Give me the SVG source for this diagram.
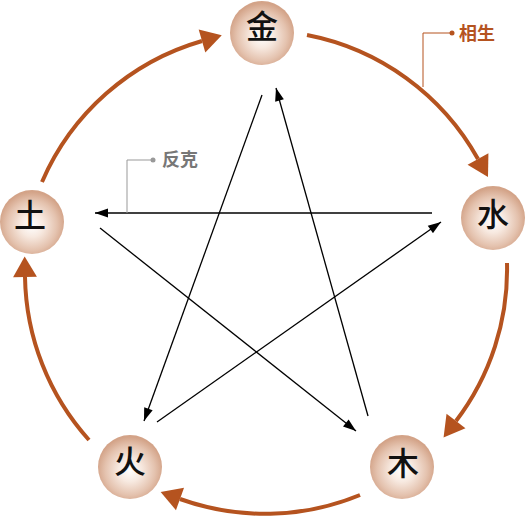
<svg xmlns="http://www.w3.org/2000/svg" width="526" height="517" viewBox="0 0 526 517">
<style>
.node circle{fill:url(#ball)}
.node text{font-family:"Noto Sans CJK SC","Noto Sans CJK JP",sans-serif;font-size:32px;font-weight:500;fill:#111;text-anchor:middle}
.sheng{fill:none;stroke:#b5531f;stroke-width:4;marker-end:url(#ah-o)}
.ke{fill:none;stroke:#000;stroke-width:1.3;marker-end:url(#ah-k)}
.lbl{font-family:"Noto Sans CJK SC","Noto Sans CJK JP",sans-serif;font-size:18px;font-weight:bold}
</style>
<defs>
<radialGradient id="ball" cx="50%" cy="55%" r="52%">
<stop offset="0" stop-color="#ffffff"/>
<stop offset="0.35" stop-color="#f7e9e0"/>
<stop offset="0.75" stop-color="#e4c2ae"/>
<stop offset="1" stop-color="#d3a388"/>
</radialGradient>
<marker id="ah-o" markerUnits="userSpaceOnUse" markerWidth="24" markerHeight="26" viewBox="0 -12 20 24" refX="0" refY="0" orient="auto">
<path d="M0,-11 L19,0 L0,11 z" fill="#b5531f"/>
</marker>
<marker id="ah-k" markerUnits="userSpaceOnUse" markerWidth="14" markerHeight="10" viewBox="0 -5 13 10" refX="13" refY="0" orient="auto">
<path d="M0,-4.5 L13,0 L0,4.5 z" fill="#000"/>
</marker>
</defs>
<g id="connectors">
<path class="sheng" d="M42,182 A250,250 0 0 1 202,41"/>
<path class="sheng" d="M307,35 A250,250 0 0 1 478,159"/>
<path class="sheng" d="M507,263 A250,250 0 0 1 456,421"/>
<path class="sheng" d="M360,495 A250,250 0 0 1 180,499"/>
<path class="sheng" d="M89,440 A250,250 0 0 1 25,277"/>
<path class="ke" d="M262,95 L144,421"/>
<path class="ke" d="M157,422 L441,222"/>
<path class="ke" d="M432,213 L95,213"/>
<path class="ke" d="M100,228 L356,431"/>
<path class="ke" d="M368,416 L276,88"/>
</g>
<g id="label-sheng">
<path d="M423,87 V33 H452" fill="none" stroke="#b5531f" stroke-width="1"/>
<circle cx="452" cy="33" r="2.5" fill="#b5531f"/>
<text class="lbl" x="459" y="40" fill="#b5531f">相生</text>
</g>
<g id="label-ke">
<path d="M127,213 V160 H153" fill="none" stroke="#999" stroke-width="1"/>
<circle cx="153" cy="160" r="2.5" fill="#999"/>
<text class="lbl" x="162" y="166" fill="#777">反克</text>
</g>
<g id="node-jin" class="node"><circle cx="262" cy="33" r="32"/><text x="262" y="38">金</text></g>
<g id="node-shui" class="node"><circle cx="493" cy="218" r="32"/><text x="493" y="226">水</text></g>
<g id="node-mu" class="node"><circle cx="402" cy="467" r="32"/><text x="403" y="475">木</text></g>
<g id="node-huo" class="node"><circle cx="130" cy="467" r="32"/><text x="130" y="473">火</text></g>
<g id="node-tu" class="node"><circle cx="32" cy="222" r="32"/><text x="30" y="227">土</text></g>
</svg>
